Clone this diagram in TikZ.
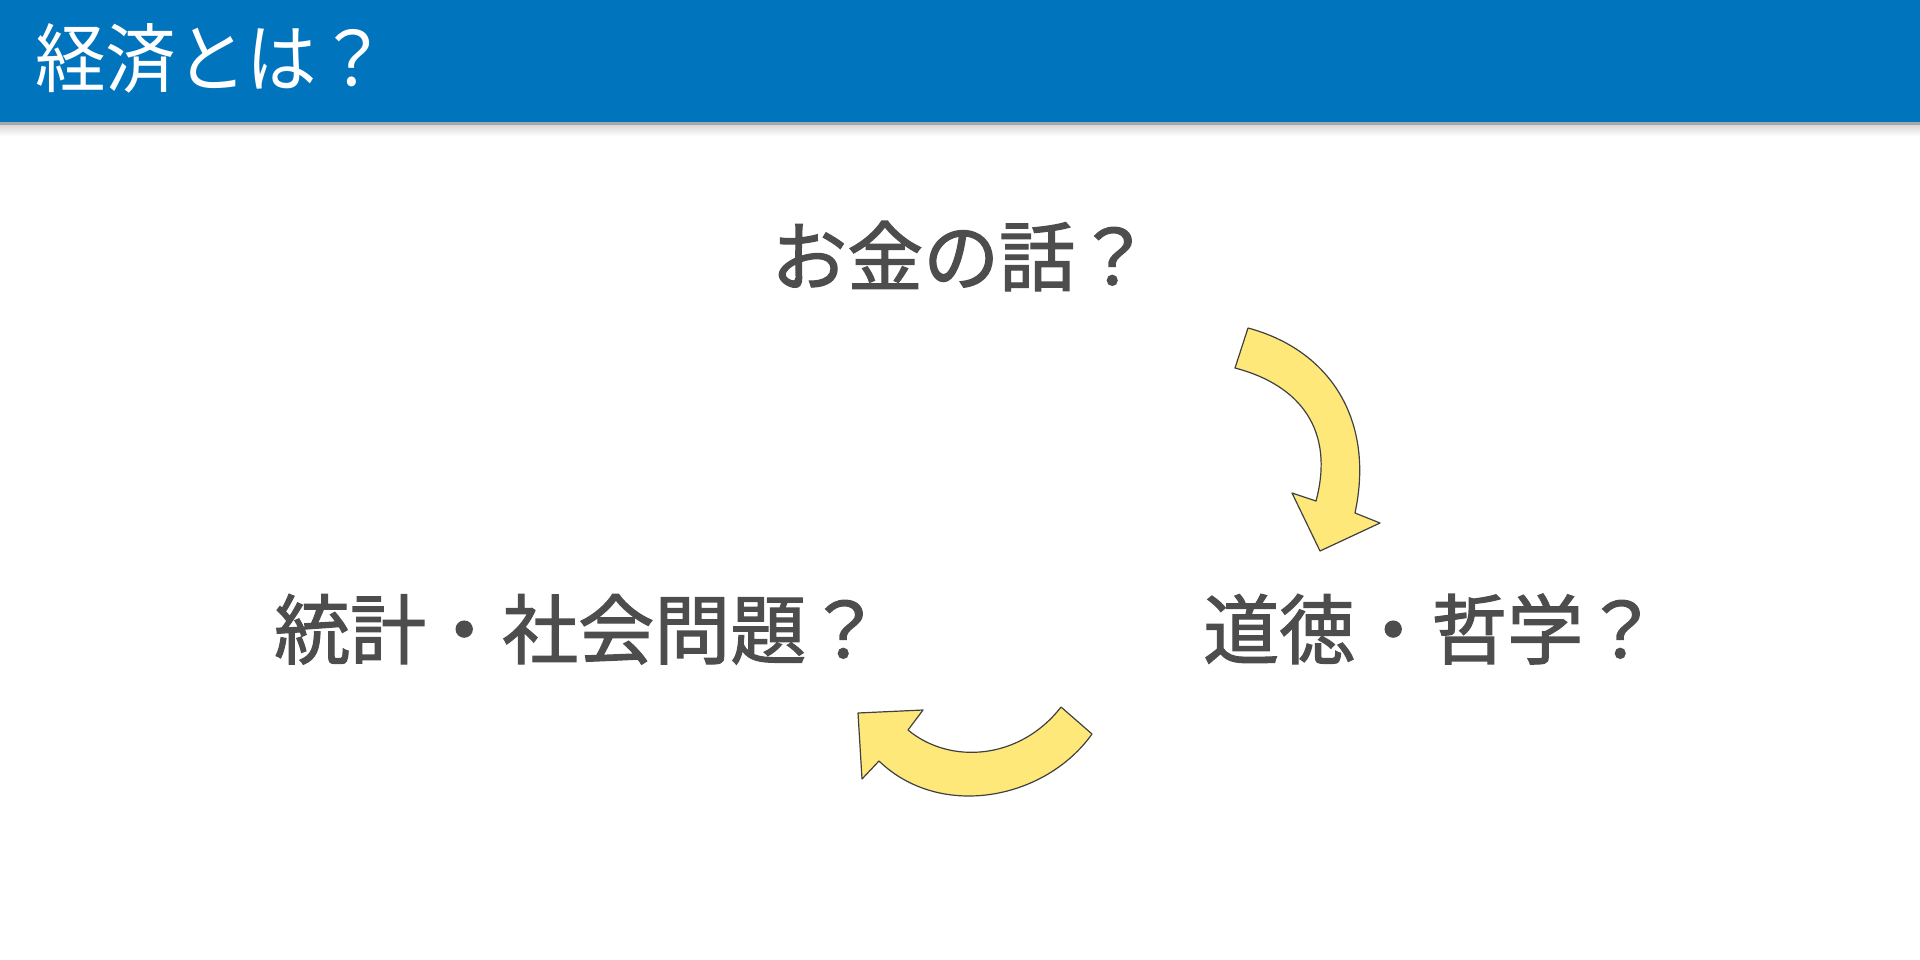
\documentclass[tikz,border=0pt]{standalone}
\usepackage{fontspec}
\newfontfamily\jpfont{Noto Sans CJK JP}
\newfontfamily\jpmid[FakeBold=1.6]{Noto Sans CJK JP}
\definecolor{headblue}{RGB}{0,117,190}
\definecolor{txtgray}{RGB}{77,77,77}
\definecolor{arrowfill}{RGB}{255,232,122}
\definecolor{arrowline}{RGB}{64,64,64}
\begin{document}
\begin{tikzpicture}[
    x=1pt,y=-1pt,
    topic/.style={anchor=base west,inner sep=0pt,text=txtgray,
        font=\jpmid\fontsize{76}{76}\selectfont},
    cyclearrow/.style={draw=arrowline,fill=arrowfill,line width=1.2pt,line join=round}
    ]
	\useasboundingbox (0,0) rectangle (1920,960);
	% header band
	\fill[headblue] (0,0) rectangle (1920,122);
	\fill[black!35] (0,122) rectangle (1920,126);
	\shade[top color=black!14,bottom color=white] (0,126) rectangle (1920,136);
	\node [anchor=base west,inner sep=0pt,text=white,xscale=0.94,transform shape,
		font=\jpfont\fontsize{75}{75}\selectfont] (title) at (35,87) {経済とは？};
	% the three topics
	\node [topic] (money) at (771,285) {お金の話？};
	\node [topic] (ethics) at (1203,658) {道徳・哲学？};
	\node [topic] (society) at (274,658) {統計・社会問題？};
	% money -> ethics
	\draw [cyclearrow] (1248,328) .. controls (1330,350) and (1375,420) .. (1355,513)
		-- (1380,523) -- (1320,551) -- (1292,493) -- (1316,501)
		.. controls (1335,430) and (1300,385) .. (1235,368) -- cycle;
	% ethics -> society
	\draw [cyclearrow] (1061,707) -- (1092,734)
		.. controls (1045,800) and (940,820) .. (879,761)
		-- (862,779) -- (858,713) -- (923,710) -- (908,730)
		.. controls (950,765) and (1020,760) .. (1061,707);
\end{tikzpicture}
\end{document}
